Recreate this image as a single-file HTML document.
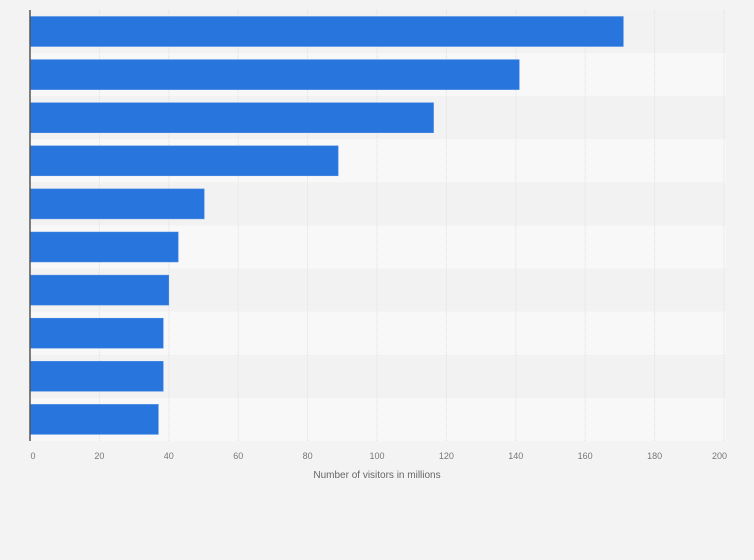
<!DOCTYPE html>
<html><head><meta charset="utf-8"><style>
body{margin:0;background:#f3f3f3;font-family:"Liberation Sans",sans-serif;}
svg{display:block}
</style></head><body>
<svg id="chart" width="754" height="560" xmlns="http://www.w3.org/2000/svg">
<rect width="754" height="560" fill="#f3f3f3"/>
<g id="bands"></g><g id="grid"></g><g id="bars"></g><g id="ticks"></g>
<line x1="30" y1="10" x2="30" y2="441" stroke="#555" stroke-width="1.5"/>
<text x="377" y="478" font-size="10" fill="#666" text-anchor="middle">Number of visitors in millions</text>
</svg>
<script>
const categories=["c1","c2","c3","c4","c5","c6","c7","c8","c9","c10"];
const values=[171,141,116.3,88.8,50.2,42.7,40,38.4,38.4,37];
const ticks=[0,20,40,60,80,100,120,140,160,180,200];
const NS="http://www.w3.org/2000/svg";
const x0=30,x1=724,plotTop=10,plotBottom=441;
const xs=v=>x0+v/200*(x1-x0);
const band=(plotBottom-plotTop)/categories.length;
function mk(t,a,p){const e=document.createElementNS(NS,t);for(const k in a)e.setAttribute(k,a[k]);document.getElementById(p).appendChild(e);return e;}
categories.forEach((c,i)=>{
 const r=mk('rect',{x:x0,y:plotTop+i*band,width:x1-x0+2,height:band,fill:i%2?'#f8f8f8':'#f2f2f2'},'bands');
 
 
});
ticks.forEach((t,k)=>{
 const l=mk('line',{x1:xs(t),x2:xs(t),y1:plotTop,y2:plotBottom,stroke:'#e0e0e0','stroke-dasharray':'1,1'},'grid');
 
 
 const last=k===ticks.length-1;
 const tx=mk('text',{x:xs(t)+(t===0?3:(last?3:0)),y:459,'font-size':'9','fill':'#777','text-anchor':last?'end':'middle'},'ticks');
 tx.textContent=t;
 
 
});
values.forEach((v,i)=>{
 const b=mk('rect',{x:x0,y:plotTop+i*band+6.5,width:xs(v)-x0,height:30,fill:'#2876dd',stroke:'#4a8be3','stroke-width':'0.5'},'bars');
 
 
});
</script>
</body></html>
